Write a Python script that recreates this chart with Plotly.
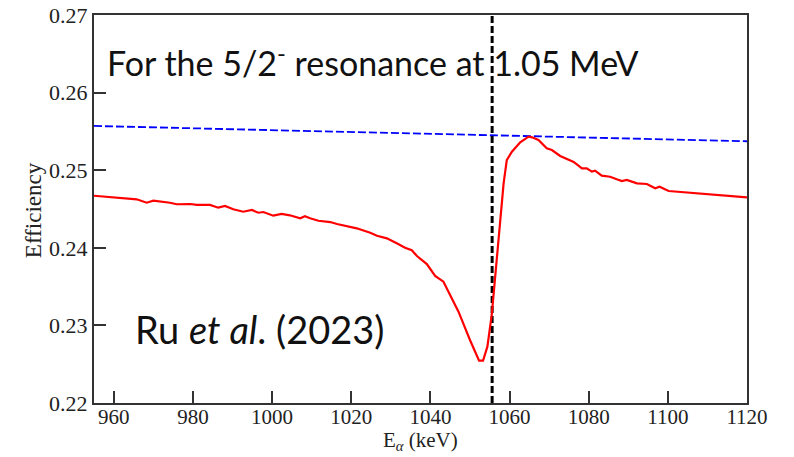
import plotly.graph_objects as go

# Red curve: efficiency vs alpha energy (keV)
red_x = [955, 962.4, 965.8, 968.3, 970.0, 974.2, 975.9, 979.3, 981.0, 984.3, 986.4, 988.1,
         990.2, 992.7, 994.9, 996.5, 997.8, 1000.3, 1002.4, 1004.5, 1007.1, 1008.3, 1009.6,
         1011.7, 1014.7, 1016.4, 1018.9, 1021.4, 1022.7, 1024.8, 1026.5, 1029.0, 1031.5,
         1033.6, 1035.3, 1036.6, 1039.1, 1041.2, 1043.3, 1047.1, 1050.0, 1052.3, 1053.3,
         1054.4, 1055.5, 1057.2, 1058.5, 1059.3, 1060.6, 1062.7, 1064.8, 1065.7, 1067.3,
         1069.4, 1070.7, 1072.8, 1076.2, 1078.3, 1079.5, 1080.8, 1081.6, 1083.3, 1085.4,
         1087.1, 1088.4, 1089.6, 1092.2, 1094.7, 1096.8, 1097.9, 1100.2, 1120]
red_y = [0.24671, 0.24638, 0.24625, 0.24581, 0.24607, 0.24581, 0.24561, 0.24564, 0.24552,
         0.24552, 0.24517, 0.24539, 0.24496, 0.24465, 0.24487, 0.24452, 0.24461, 0.24414,
         0.24436, 0.24419, 0.24380, 0.24406, 0.24380, 0.24349, 0.24332, 0.24307, 0.24281,
         0.24251, 0.24229, 0.24195, 0.24156, 0.24122, 0.24058, 0.24001, 0.23968, 0.23894,
         0.23791, 0.23637, 0.23563, 0.23177, 0.22812, 0.22545, 0.22545, 0.22726, 0.23134,
         0.24143, 0.24831, 0.25131, 0.25238, 0.25360, 0.25432, 0.25424, 0.25389, 0.25282,
         0.25260, 0.25183, 0.25106, 0.25024, 0.25024, 0.24981, 0.24994, 0.24929, 0.24916,
         0.24883, 0.24861, 0.24874, 0.24831, 0.24822, 0.24767, 0.24788, 0.24732, 0.24651]

# Blue dashed curve
blue_x = [955, 1000, 1056, 1100, 1120]
blue_y = [0.25570, 0.25515, 0.25445, 0.25395, 0.25373]

# Resonance marker
resonance_x = 1055.6
y_range = [0.22, 0.27]
x_range = [955, 1120]

x_ticks = [960, 980, 1000, 1020, 1040, 1060, 1080, 1100, 1120]
y_ticks = [0.22, 0.23, 0.24, 0.25, 0.26, 0.27]

fig = go.Figure()
fig.add_trace(go.Scatter(x=blue_x, y=blue_y, mode="lines",
                         line=dict(color="#0000ff", width=1.8, dash="8px,3px")))
fig.add_trace(go.Scatter(x=[resonance_x, resonance_x], y=y_range, mode="lines",
                         line=dict(color="black", width=3, dash="7px,3px")))
fig.add_trace(go.Scatter(x=red_x, y=red_y, mode="lines",
                         line=dict(color="#ff0000", width=2.2)))

axis_font = dict(family="Liberation Serif", size=21, color="#222222")
title_font = dict(family="Liberation Serif", size=21, color="#222222")
fig.update_layout(
    width=794, height=457,
    margin=dict(l=94, r=47, t=15, b=54),
    paper_bgcolor="white", plot_bgcolor="white",
    showlegend=False,
    xaxis=dict(range=x_range, tickvals=x_ticks, ticks="inside", ticklen=12, tickwidth=1.5,
               tickcolor="#333333", showline=True, linecolor="#333333", linewidth=2,
               mirror=True, showgrid=False, zeroline=False, tickfont=axis_font,
               ticklabelstandoff=-6, automargin=False),
    yaxis=dict(range=y_range, tickvals=y_ticks, tickformat=".2f", ticks="inside", ticklen=12,
               tickwidth=1.5, tickcolor="#333333", showline=True, linecolor="#333333",
               linewidth=2, mirror=True, showgrid=False, zeroline=False,
               tickfont=dict(family="Liberation Serif", size=22, color="#222222"),
               ticklabelstandoff=0, automargin=False),
)

# Axis titles
fig.add_annotation(text="E<sub><i>α</i></sub> (keV)", xref="paper", yref="paper",
                   x=0.5, y=-0.136, xanchor="center", yanchor="bottom",
                   showarrow=False, font=title_font)
fig.add_annotation(text="Efficiency", xref="paper", yref="paper", textangle=-90,
                   x=-0.0934, y=0.497, xanchor="center", yanchor="middle",
                   showarrow=False, font=dict(family="Liberation Serif", size=23, color="#222222"))

fig.add_annotation(text="For the 5/2<sup>-</sup> resonance at 1.05 MeV",
                   xref="paper", yref="paper", x=0.0164, y=0.882, xanchor="left", yanchor="middle",
                   showarrow=False, font=dict(family="Lato", size=34, color="#111111"))
fig.add_annotation(text="Ru <i>et al</i>. (2023)",
                   xref="paper", yref="paper", x=0.0597, y=0.19, xanchor="left", yanchor="middle",
                   showarrow=False, font=dict(family="Lato", size=38, color="#111111"))

fig.write_html("out.html")
